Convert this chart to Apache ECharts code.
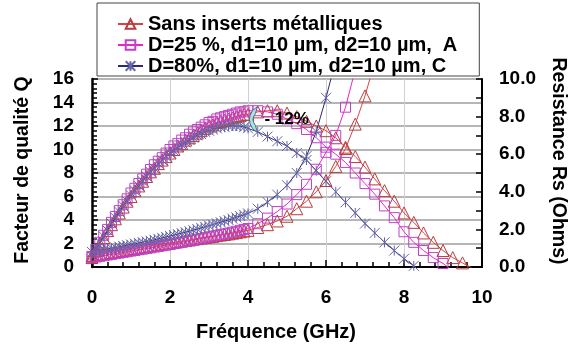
<!DOCTYPE html>
<html><head><meta charset="utf-8">
<script src="https://cdn.jsdelivr.net/npm/echarts@6/dist/echarts.min.js"></script>
<style>html,body{margin:0;padding:0;background:#fff}#c{width:573px;height:347px}</style>
</head><body><div id="c"></div>
<script>
// Frequencies (GHz)
const FREQ = [0,0.1,0.2,0.3,0.4,0.5,0.6,0.7,0.8,0.9,1.0,1.1,1.2,1.3,1.4,1.5,1.6,1.7,1.8,1.9,2.0,2.1,2.2,2.3,2.4,2.5,2.6,2.7,2.8,2.9,3.0,3.1,3.2,3.3,3.4,3.5,3.6,3.7,3.8,3.9,4.0,
  4.25,4.5,4.75,5.0,5.25,5.5,5.75,6.0,6.25,6.5,6.75,7.0,7.25,7.5,7.75,8.0,8.25,8.5,8.75,9.0,9.25,9.5,9.75,10.0];

const NAMES = ['Sans inserts métalliques', 'D=25 %, d1=10 µm, d2=10 µm,  A', 'D=80%, d1=10 µm, d2=10 µm, C'];

// Quality factor Q (left axis)
const Q_SANS = [0.8,1.4,2.0,2.5,3.1,3.6,4.1,4.6,5.1,5.6,6.0,6.5,6.9,7.3,7.7,8.1,8.4,8.8,9.1,9.4,9.7,10.0,10.3,10.5,10.8,11.0,11.2,11.4,11.6,11.8,12.0,12.1,12.3,12.4,12.5,12.6,12.7,12.8,12.9,13.0,13.0,
  13.2,13.3,13.3,13.1,12.8,12.4,12.0,11.6,11.0,10.2,9.4,8.5,7.5,6.5,5.6,4.6,3.8,2.9,2.1,1.4,0.8,0.35,-0.1,null];
const Q_A = [0.9,1.5,2.1,2.7,3.2,3.8,4.3,4.8,5.3,5.8,6.3,6.7,7.1,7.5,7.9,8.3,8.7,9.0,9.3,9.7,10.0,10.3,10.5,10.8,11.0,11.3,11.5,11.7,11.9,12.1,12.3,12.4,12.6,12.7,12.8,12.9,13.0,13.1,13.2,13.2,13.3,
  13.3,13.2,13.0,12.6,12.2,11.7,11.0,10.2,9.6,8.9,8.0,7.1,6.2,5.2,4.2,3.0,2.1,1.4,0.8,0.3,-0.3,null,null,null];
const Q_C = [0.9,1.5,2.1,2.6,3.1,3.7,4.2,4.7,5.2,5.6,6.1,6.5,6.9,7.3,7.7,8.1,8.4,8.8,9.1,9.4,9.7,9.9,10.2,10.4,10.6,10.8,11.0,11.2,11.3,11.5,11.6,11.7,11.8,11.9,11.9,12.0,12.0,12.0,12.0,11.9,11.8,
  11.5,11.1,10.7,10.3,9.7,9.1,8.2,7.3,6.4,5.5,4.6,3.7,2.9,2.1,1.4,0.7,0.1,-0.5,null,null,null,null,null,null];

// Series resistance Rs in Ohms (right axis)
const RS_SANS = [0.60,0.63,0.67,0.70,0.74,0.77,0.81,0.84,0.88,0.91,0.95,0.98,1.02,1.05,1.08,1.12,1.15,1.18,1.22,1.25,1.28,1.31,1.35,1.38,1.41,1.44,1.48,1.51,1.54,1.57,1.60,1.63,1.67,1.70,1.73,1.76,1.80,1.83,1.87,1.91,1.95,
  2.1,2.25,2.45,2.7,3.1,3.5,4.0,4.6,5.35,6.3,7.6,9.1,10.9,null,null,null,null,null,null,null,null,null,null,null];
const RS_A = [0.50,0.53,0.57,0.60,0.64,0.67,0.71,0.74,0.78,0.81,0.85,0.88,0.92,0.95,0.99,1.02,1.06,1.09,1.13,1.16,1.20,1.24,1.28,1.32,1.36,1.40,1.44,1.48,1.52,1.56,1.60,1.64,1.68,1.72,1.76,1.80,1.85,1.90,1.95,2.00,2.05,
  2.3,2.6,2.95,3.35,3.85,4.4,5.2,6.1,7.0,8.5,10.5,null,null,null,null,null,null,null,null,null,null,null,null,null];
const RS_C = [0.80,0.84,0.88,0.92,0.96,1.00,1.04,1.08,1.12,1.16,1.20,1.24,1.28,1.32,1.36,1.40,1.45,1.50,1.55,1.60,1.65,1.70,1.75,1.80,1.85,1.90,1.96,2.02,2.08,2.14,2.20,2.26,2.32,2.38,2.44,2.50,2.57,2.64,2.71,2.78,2.85,
  3.1,3.45,3.85,4.35,5.0,5.9,7.2,9.0,11.0,null,null,null,null,null,null,null,null,null,null,null,null,null,null,null];

const X_TICKS = [0,2,4,6,8,10];
const Q_TICKS = [0,2,4,6,8,10,12,14,16];
const RS_TICKS = ['0.0','2.0','4.0','6.0','8.0','10.0'];
const NOTE = '- 12%';

const FONT = '"Liberation Sans", Arial, sans-serif';
const pairs = (ys) => FREQ.map((f, i) => [f, ys[i]]);

const STYLES = [
  {symbol: 'triangle', size: 12, line: '#d84444', mark: '#b83c3c'},
  {symbol: 'rect', size: 10, line: '#ee22cc', mark: '#c040c8'},
  {symbol: 'path://M5,0L5,10M0,0L10,10M0,10L10,0', size: 10, line: '#2a2a78', mark: '#6464a8'}
];

function mk(idx, ys, axis) {
  const s = STYLES[idx];
  return {
    type: 'line', name: NAMES[idx], yAxisIndex: axis, data: pairs(ys),
    symbol: s.symbol, symbolSize: s.size, showSymbol: true, showAllSymbol: true, clip: true,
    lineStyle: {color: s.line, width: 1},
    itemStyle: {color: 'rgba(0,0,0,0)', borderColor: s.mark, borderWidth: 1},
    emphasis: {disabled: true}
  };
}

const chart = echarts.init(document.getElementById('c'), null, {renderer: 'canvas'});
chart.setOption({
  animation: false,
  backgroundColor: '#fff',
  grid: {left: 92, right: 91, top: 79, bottom: 80},
  legend: {
    orient: 'vertical', left: 97, top: 3,
    data: NAMES,
    itemWidth: 25, itemHeight: 12, itemGap: 1,
    padding: [11, 22, 0, 20],
    borderColor: '#444', borderWidth: 1, backgroundColor: '#fff',
    textStyle: {fontFamily: FONT, fontWeight: 'bold', fontSize: 20, color: '#000', lineHeight: 20}
  },
  xAxis: {
    type: 'value', min: 0, max: 10, interval: 2,
    axisLine: {lineStyle: {color: '#000', width: 2}},
    axisTick: {inside: true, length: 7, lineStyle: {color: '#000', width: 1.5}},
    minorTick: {show: true, splitNumber: 5, length: 5, lineStyle: {color: '#000', width: 1.5}},
    axisLabel: {margin: 21, fontFamily: FONT, fontWeight: 'bold', fontSize: 19, color: '#000',
      formatter: v => X_TICKS.includes(v) ? String(v) : ''},
    splitLine: {show: true, lineStyle: {color: '#d0d0d0', width: 1}}
  },
  yAxis: [
    {
      type: 'value', min: 0, max: 16, interval: 2,
      axisLine: {show: true, lineStyle: {color: '#000', width: 2.5}},
      axisTick: {show: true, inside: true, length: 6, lineStyle: {color: '#000', width: 1.5}},
      minorTick: {show: true, splitNumber: 5, length: 5, lineStyle: {color: '#000', width: 1.5}},
      axisLabel: {margin: 18, fontFamily: FONT, fontWeight: 'bold', fontSize: 19, color: '#000',
        formatter: v => Q_TICKS.includes(v) ? String(v) : ''},
      splitLine: {show: true, lineStyle: {color: '#b6b6b6', width: 2}}
    },
    {
      type: 'value', min: 0, max: 10, interval: 1, position: 'right',
      axisLine: {show: true, lineStyle: {color: '#000', width: 2}},
      axisTick: {show: true, inside: true, length: 6, lineStyle: {color: '#000', width: 1.5}},
      axisLabel: {margin: 17, fontFamily: FONT, fontWeight: 'bold', fontSize: 19, color: '#000',
        formatter: v => (v % 2 === 0 ? RS_TICKS[v / 2] : '')},
      splitLine: {show: false}
    }
  ],
  series: [
    mk(0, Q_SANS, 0),
    mk(1, Q_A, 0),
    mk(2, Q_C, 0),
    mk(0, RS_SANS, 1),
    mk(1, RS_A, 1),
    mk(2, RS_C, 1)
  ]
});

// annotation placed through the chart's own scales
const arrowPt = chart.convertToPixel({xAxisIndex: 0, yAxisIndex: 0}, [4.14, 12.55]);
const notePt = chart.convertToPixel({xAxisIndex: 0, yAxisIndex: 0}, [4.42, 12.6]);
const crescent = [[9,0],[4,4],[1.5,9],[1,13],[1.5,17],[4,22],[9,26],[7,19],[5,15.5],[4.5,13],[5,10.5],[7,7]];
chart.setOption({
  graphic: [
    {type: 'text', x: 23, y: 170, rotation: Math.PI / 2,
      style: {text: 'Facteur de qualité Q', font: 'bold 19.5px ' + FONT, fill: '#000', align: 'center', verticalAlign: 'middle'}},
    {type: 'text', x: 558, y: 161, rotation: -Math.PI / 2,
      style: {text: 'Resistance Rs (Ohms)', font: 'bold 19.5px ' + FONT, fill: '#000', align: 'center', verticalAlign: 'middle'}},
    {type: 'text', x: 276, y: 332,
      style: {text: 'Fréquence (GHz)', font: 'bold 20px ' + FONT, fill: '#000', align: 'center', verticalAlign: 'middle'}},
    {type: 'polygon', x: arrowPt[0] - 5, y: arrowPt[1] - 13, z: 100,
      shape: {points: crescent},
      style: {fill: '#a6e4e4', stroke: '#556677', lineWidth: 1}},
    {type: 'text', x: notePt[0], y: notePt[1], z: 100,
      style: {text: NOTE, font: 'bold 17px ' + FONT, fill: '#000', align: 'left', verticalAlign: 'middle'}}
  ]
});
</script></body></html>
